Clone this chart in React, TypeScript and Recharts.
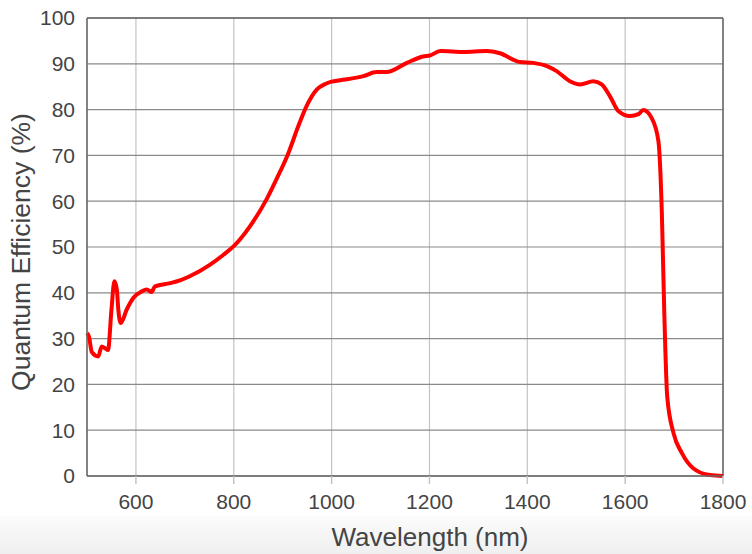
import React from "react";
import {
  LineChart,
  Line,
  XAxis,
  YAxis,
  CartesianGrid,
  ReferenceLine,
} from "recharts";

// wavelength (nm) and quantum efficiency (%)
const wavelengths = [
  500, 504, 510, 523, 530, 537, 543, 550, 556, 561, 564, 569, 581, 595, 612,
  622, 632, 639, 670, 690, 710, 751, 779, 803, 833, 867, 890, 912, 932, 949,
  970, 987, 1000, 1017, 1065, 1092, 1112, 1154, 1187, 1201, 1222, 1269, 1317,
  1344, 1385, 1412, 1440, 1460, 1487, 1508, 1535, 1552, 1569, 1586, 1610, 1627,
  1637, 1654, 1668, 1675, 1680, 1686, 1699, 1716, 1739, 1773, 1800,
];
const efficiency = [
  31.2, 30.4, 27.0, 26.1, 28.3, 27.9, 27.5, 36.3, 42.5, 40.7, 36.3, 33.4, 36.3,
  38.9, 40.3, 40.7, 40.2, 41.4, 42.1, 42.7, 43.6, 46.1, 48.3, 50.5, 54.5, 60.4,
  65.4, 70.6, 76.4, 80.8, 84.4, 85.6, 86.1, 86.4, 87.3, 88.2, 88.2, 90.2, 91.6,
  91.8, 92.8, 92.6, 92.8, 92.3, 90.4, 90.2, 89.5, 88.4, 86.2, 85.5, 86.2, 85.5,
  82.9, 79.7, 78.6, 79.0, 79.9, 78.2, 73.1, 57.4, 35.6, 17.3, 9.3, 5.0, 1.7,
  0.2, 0,
];
const xTicks = [600, 800, 1000, 1200, 1400, 1600, 1800];
const yTicks = [0, 10, 20, 30, 40, 50, 60, 70, 80, 90, 100];

const data = wavelengths.map((w, i) => ({ wl: w, qe: efficiency[i] }));

const font = "Liberation Sans, Arial, sans-serif";

export default function App() {
  return (
    <div
      style={{
        position: "absolute",
        left: 0,
        top: 0,
        width: 752,
        height: 554,
        overflow: "hidden",
        background: "#fff",
        fontFamily: font,
      }}
    >
      {/* grey strip at the bottom of the page */}
      <div
        style={{
          position: "absolute",
          left: 0,
          top: 516,
          width: 752,
          height: 38,
          background: "linear-gradient(#fcfcfc, #efefef)",
        }}
      />
      <div style={{ position: "absolute", left: 0, top: 0 }}>
        <LineChart
          width={752}
          height={554}
          data={data}
          margin={{ top: 18, right: 29, bottom: 38, left: 0 }}
        >
          <CartesianGrid horizontal={false} stroke="#c4c4c4" strokeWidth={1.2} />
          <CartesianGrid vertical={false} stroke="#8a8a8a" strokeWidth={1.2} />
          <XAxis
            dataKey="wl"
            type="number"
            domain={[500, 1800]}
            ticks={xTicks}
            height={40}
            stroke="#666"
            strokeWidth={1.5}
            tickSize={8}
            tickLine={{ stroke: "#c4c4c4" }}
            tickMargin={10}
            tick={{ fill: "#444", fontSize: 21, fontFamily: font }}
          />
          <YAxis
            type="number"
            domain={[0, 100]}
            ticks={yTicks}
            width={87}
            stroke="#666"
            strokeWidth={1.5}
            tickLine={false}
            tickSize={0}
            tickMargin={12}
            tick={{ fill: "#444", fontSize: 21, fontFamily: font }}
          />
          <ReferenceLine y={100} stroke="#666" strokeWidth={1.5} />
          <ReferenceLine x={1800} stroke="#666" strokeWidth={1.5} />
          <Line
            dataKey="qe"
            type="monotone"
            stroke="#ff0000"
            strokeWidth={4}
            dot={false}
            isAnimationActive={false}
          />
        </LineChart>
      </div>
      <div
        style={{
          position: "absolute",
          left: 230,
          top: 522,
          width: 400,
          textAlign: "center",
          fontSize: 26,
          lineHeight: "30px",
          color: "#444",
          whiteSpace: "nowrap",
        }}
      >
        Wavelength (nm)
      </div>
      <div
        style={{
          position: "absolute",
          left: 21,
          top: 252,
          transform: "translate(-50%, -50%) rotate(-90deg)",
          fontSize: 26.5,
          color: "#444",
          whiteSpace: "nowrap",
        }}
      >
        Quantum Efficiency (%)
      </div>
    </div>
  );
}
